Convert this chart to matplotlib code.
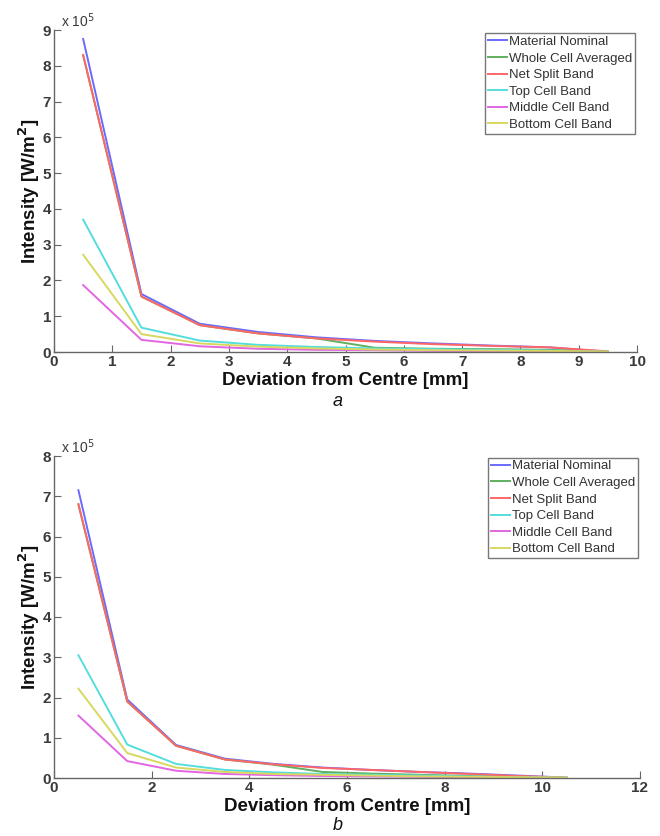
import matplotlib
matplotlib.use("Agg")
import matplotlib.pyplot as plt

plt.rcParams['font.family'] = ['Liberation Sans', 'DejaVu Sans']

labels = ["Material Nominal", "Whole Cell Averaged", "Net Split Band",
          "Top Cell Band", "Middle Cell Band", "Bottom Cell Band"]
colors = ["#6a6aff", "#5fb05f", "#ff6666", "#55dddd", "#e266e2", "#d8d860"]

# Panel a (intensity in units of 1e5 W/m^2)
x_a = [0.5, 1.5, 2.5, 3.5, 4.5, 5.5, 6.5, 7.5, 8.5, 9.5]
nominal_a = [8.75, 1.62, 0.79, 0.56, 0.41, 0.31, 0.24, 0.18, 0.13, 0.00]
whole_a   = [8.30, 1.55, 0.75, 0.52, 0.38, 0.12, 0.09, 0.08, 0.06, 0.01]
netsplit_a= [8.30, 1.55, 0.75, 0.52, 0.38, 0.29, 0.22, 0.17, 0.13, 0.02]
top_a     = [3.70, 0.68, 0.32, 0.20, 0.14, 0.10, 0.08, 0.06, 0.04, 0.01]
middle_a  = [1.87, 0.34, 0.16, 0.09, 0.06, 0.05, 0.03, 0.02, 0.02, 0.00]
bottom_a  = [2.72, 0.50, 0.24, 0.15, 0.10, 0.07, 0.05, 0.04, 0.03, 0.01]

# Panel b
x_b = [0.5, 1.5, 2.5, 3.5, 4.5, 5.5, 6.5, 7.5, 8.5, 9.5, 10.5]
nominal_b = [7.15, 1.95, 0.82, 0.48, 0.35, 0.26, 0.20, 0.15, 0.11, 0.06, 0.01]
whole_b   = [6.80, 1.90, 0.80, 0.46, 0.33, 0.15, 0.11, 0.08, 0.05, 0.03, 0.00]
netsplit_b= [6.80, 1.90, 0.80, 0.46, 0.34, 0.25, 0.20, 0.15, 0.10, 0.05, 0.01]
top_b     = [3.05, 0.83, 0.35, 0.20, 0.14, 0.10, 0.08, 0.06, 0.04, 0.02, 0.01]
middle_b  = [1.55, 0.42, 0.18, 0.10, 0.07, 0.05, 0.04, 0.03, 0.02, 0.01, 0.00]
bottom_b  = [2.22, 0.62, 0.26, 0.15, 0.10, 0.08, 0.06, 0.04, 0.03, 0.02, 0.01]

xticks_a = [0, 1, 2, 3, 4, 5, 6, 7, 8, 9, 10]
yticks_a = [0, 1, 2, 3, 4, 5, 6, 7, 8, 9]
xticks_b = [0, 2, 4, 6, 8, 10, 12]
yticks_b = [0, 1, 2, 3, 4, 5, 6, 7, 8]

W, H = 660, 836
fig = plt.figure(figsize=(W / 100, H / 100), dpi=100)

def px(l, t, r, b):
    return [l / W, 1 - b / H, (r - l) / W, (b - t) / H]

axes_color = "#666666"
text_color = "#3a3a3a"

def style(ax, x, series, xticks, yticks, leg_anchor, sub, sub_y, width_px):
    for y, c, lab in zip(series, colors, labels):
        ax.plot(x, y, color=c, lw=1.4, label=lab)
    ax.set_xlim(xticks[0], xticks[-1])
    ax.set_ylim(yticks[0], yticks[-1])
    ax.set_xticks(xticks)
    ax.set_yticks(yticks)
    ax.spines['top'].set_visible(False)
    ax.spines['right'].set_visible(False)
    for s in ('left', 'bottom'):
        ax.spines[s].set_color(axes_color)
        ax.spines[s].set_linewidth(1.0)
    ax.tick_params(direction='in', length=5, color=axes_color, labelsize=11,
                   labelcolor=text_color, pad=2)
    for t in ax.get_xticklabels() + ax.get_yticklabels():
        t.set_fontweight('bold')
    ax.set_xlabel("Deviation from Centre [mm]", fontsize=13.5, fontweight='bold',
                  labelpad=2.5, color='#111111')
    ax.set_ylabel("Intensity [W/m$^\\mathbf{2}$]", fontsize=13.5, fontweight='bold',
                  color='#111111')
    ax.yaxis.set_label_coords(-12 / width_px, 0.5)
    ax.text(0.012, 1.0, "x 10$^5$", transform=ax.transAxes, fontsize=10,
            color=text_color, ha='left', va='bottom')
    leg = ax.legend(loc='upper right', bbox_to_anchor=leg_anchor, fontsize=9.5,
                    frameon=True, fancybox=False, handlelength=1.5,
                    handletextpad=0.15, borderpad=0.2, labelspacing=0.33,
                    borderaxespad=0)
    leg.get_frame().set_edgecolor('#555555')
    leg.get_frame().set_linewidth(1.0)
    for t in leg.get_texts():
        t.set_color('#333333')
    fig.text(338 / W, 1 - sub_y / H, sub, fontsize=13, style='italic',
             ha='center', va='center', color='#111111')

ax1 = fig.add_axes(px(54, 30, 637, 352))
style(ax1, x_a, [nominal_a, whole_a, netsplit_a, top_a, middle_a, bottom_a],
      xticks_a, yticks_a, (0.997, 0.99), "a", 402, 583)

ax2 = fig.add_axes(px(54, 456, 640, 778))
style(ax2, x_b, [nominal_b, whole_b, netsplit_b, top_b, middle_b, bottom_b],
      xticks_b, yticks_b, (0.997, 0.995), "b", 826, 586)

fig.savefig("out.png", dpi=100, facecolor='white')
